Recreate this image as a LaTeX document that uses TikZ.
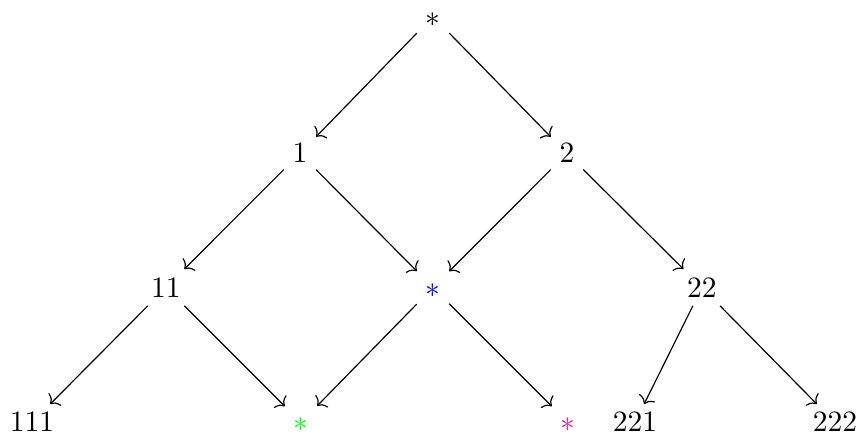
\documentclass[tikz,border=0pt]{standalone}
\usepackage{xcolor}
\usepackage{tikz}
\usetikzlibrary{arrows.meta}
\definecolor{starpink}{RGB}{240,30,150}
\tikzset{word/.style={anchor=base,inner sep=2pt,outer sep=1pt,text height=1.5ex,text depth=0pt},
  edge/.style={-{To[length=2.4pt,width=6pt]},line width=0.4pt}}

\begin{document}
\begin{tikzpicture}
  \useasboundingbox (0,0) rectangle (10.31,-5.20);
  % levels from top to bottom
  \node[word] (top) at (5.155,-0.31) {$*$};
  \node[word] (one) at (3.571,-1.940) {1};
  \node[word] (two) at (6.750,-1.940) {2};
  \node[word] (oneone) at (1.976,-3.536) {11};
  \node[word,blue] (mid) at (5.155,-3.536) {$*$};
  \node[word] (twotwo) at (8.357,-3.536) {22};
  \node[word] (oneoneone) at (0.381,-5.143) {111};
  \node[word,green] (left) at (3.583,-5.143) {$*$};
  \node[word,starpink] (right) at (6.762,-5.143) {$*$};
  \node[word] (twotwoone) at (7.560,-5.143) {221};
  \node[word] (twotwotwo) at (9.940,-5.143) {222};
  \foreach \a/\b in {top/one,top/two,one/oneone,one/mid,two/mid,two/twotwo,
      oneone/oneoneone,oneone/left,mid/left,mid/right,twotwo/twotwoone,twotwo/twotwotwo}
    \draw[edge] (\a) -- (\b);
\end{tikzpicture}
\end{document}
